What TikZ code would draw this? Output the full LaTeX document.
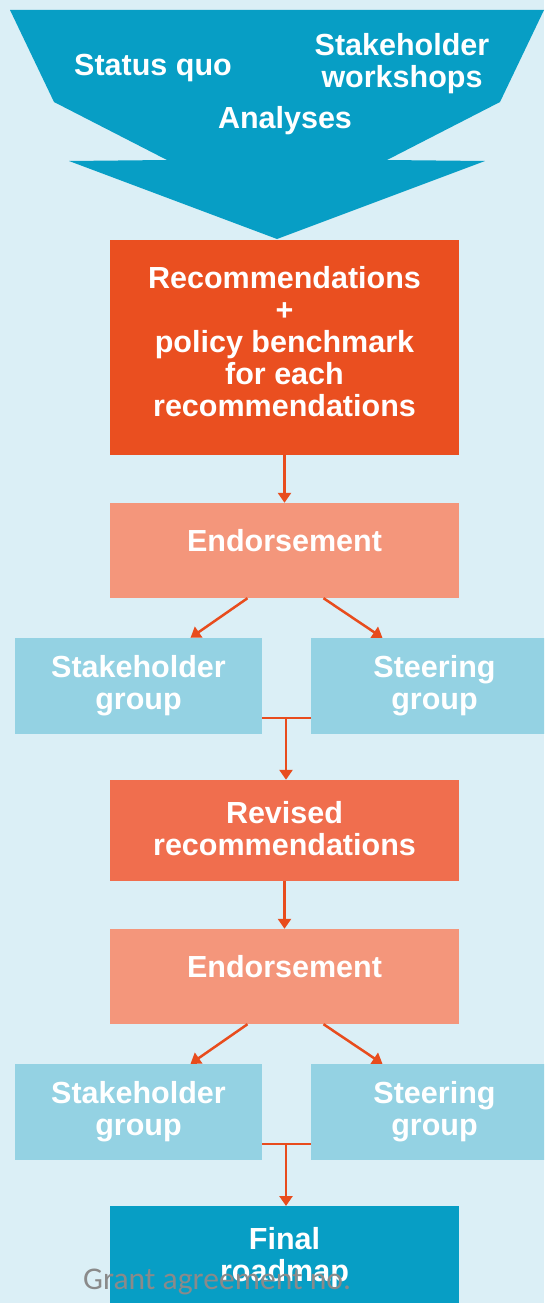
\documentclass[tikz,border=0pt]{standalone}
\usepackage{fontspec}
\setmainfont{Liberation Sans}
\newfontfamily\footfont{Carlito}
\usepackage[]{tikz}
\usetikzlibrary{positioning}
\usetikzlibrary{arrows.meta}
\definecolor{bgblue}{HTML}{DBEFF6}
\definecolor{deepblue}{HTML}{079EC5}
\definecolor{recred}{HTML}{EA4F20}
\definecolor{endsalmon}{HTML}{F4967B}
\definecolor{grpblue}{HTML}{94D2E3}
\definecolor{revorange}{HTML}{F06E4E}
\definecolor{arrred}{HTML}{E84C1D}
\definecolor{footgray}{HTML}{8A8A8A}
\tikzset{boxtext/.style={text=white,align=center,font=\fontsize{30.5}{32}\selectfont\bfseries}}
\tikzset{midbox/.style={boxtext,minimum width=349pt,inner sep=0pt}}
\tikzset{grpbox/.style={boxtext,fill=grpblue,minimum width=247pt,minimum height=96pt,inner sep=0pt}}
\tikzset{flow/.style={arrred,line width=2.5pt,-{Triangle[length=10pt,width=13pt]}}}

\begin{document}
\begin{tikzpicture}[x=1pt,y=-1pt]
            \useasboundingbox (0,0) rectangle (544,1303);
            \clip (0,0) rectangle (544,1303);
            \fill[bgblue] (0,0) rectangle (544,1303);
            \fill[deepblue] (10,10) -- (544,10) -- (500,102) -- (387,160) -- (485,161) -- (277,239) -- (69,161) -- (167,160) -- (54,102) -- cycle;
            \node[boxtext] (quo) at (153,68) {Status quo};
            \node[boxtext] (work) at (402,64) {Stakeholder\\workshops};
            \node[boxtext] (ana) at (285,121) {Analyses};
            \node[midbox,fill=recred,minimum height=215pt,text depth=12pt] (rec) at (284.5,347.5) {Recommendations\\+\\policy benchmark\\for each\\recommendations};
            \node[midbox,fill=endsalmon,minimum height=95pt,text depth=20pt] (endA) at (284.5,550.5) {Endorsement};
            \node[grpbox] (stkA) at (138.5,686) {Stakeholder\\group};
            \node[grpbox] (steA) at (434.5,686) {Steering\\group};
            \node[midbox,fill=revorange,minimum height=101pt,text depth=4pt] (rev) at (284.5,830.5) {Revised\\recommendations};
            \node[midbox,fill=endsalmon,minimum height=95pt,text depth=20pt] (endB) at (284.5,976.5) {Endorsement};
            \node[grpbox] (stkB) at (138.5,1112) {Stakeholder\\group};
            \node[grpbox] (steB) at (434.5,1112) {Steering\\group};
            \node[midbox,fill=deepblue,minimum height=140pt,anchor=north,text depth=44pt] (final) at (284.5,1206) {Final\\roadmap};
            \coordinate (joinA) at (286,718);
            \coordinate (joinB) at (286,1144);
            \draw[flow] (rec.south) -- (endA.north);
            \draw[flow] ([xshift=-37pt]endA.south) -- ([xshift=52pt]stkA.north);
            \draw[flow] ([xshift=39pt]endA.south) -- ([xshift=-52pt]steA.north);
            \draw[arrred,line width=2.5pt] (stkA.east |- joinA) -- (steA.west |- joinA);
            \draw[flow] (joinA) -- (joinA |- rev.north);
            \draw[flow] (rev.south) -- (endB.north);
            \draw[flow] ([xshift=-37pt]endB.south) -- ([xshift=52pt]stkB.north);
            \draw[flow] ([xshift=39pt]endB.south) -- ([xshift=-52pt]steB.north);
            \draw[arrred,line width=2.5pt] (stkB.east |- joinB) -- (steB.west |- joinB);
            \draw[flow] (joinB) -- (joinB |- final.north);
            \node[anchor=base west,inner sep=0pt,text=footgray,font=\footfont\fontsize{31.6}{31.6}\selectfont] (grant) at (83,1289) {Grant agreement no.};
        \end{tikzpicture}
\end{document}
